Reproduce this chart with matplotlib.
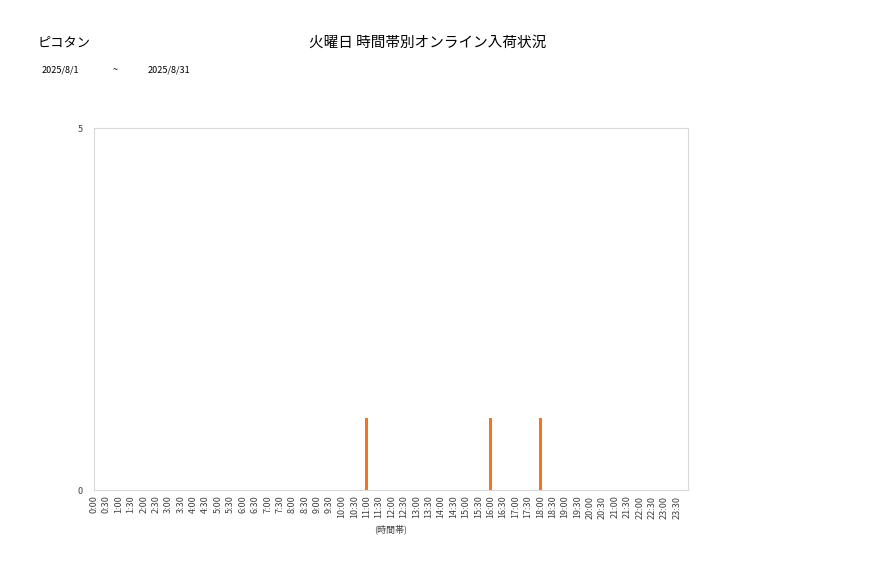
import matplotlib
matplotlib.use("Agg")
import matplotlib.pyplot as plt

plt.rcParams['font.family'] = ['Noto Sans CJK JP', 'DejaVu Sans']

times = [f"{h}:{m:02d}" for h in range(24) for m in (0, 30)]
counts = [0] * 48
active = {"11:00": 1, "16:00": 1, "18:00": 1}
for k, v in active.items():
    counts[times.index(k)] = v

yticks = [0, 5]
title = "火曜日 時間帯別オンライン入荷状況"
shop = "ピコタン"
date_from = "2025/8/1"
date_to = "2025/8/31"
xlabel = "(時間帯)"

W, H = 877, 578
fig = plt.figure(figsize=(W / 100, H / 100), dpi=100)
ax = fig.add_axes([94 / W, (H - 490) / H, (688 - 94) / W, (490 - 128) / H])

x = list(range(len(times)))
ax.bar(x, counts, width=0.25, color='#F7731C', zorder=3)
ax.set_xlim(0.0, 47.9)
ax.set_ylim(0, 5)
ax.set_yticks(yticks)
ax.set_yticklabels([str(v) for v in yticks], fontsize=6.5, color='#404040')
ax.set_xticks(x)
ax.set_xticklabels(times, rotation=90, fontsize=6.5, color='#404040')
ax.tick_params(axis='x', length=0, pad=4)
ax.tick_params(axis='y', length=0, pad=8)
for s in ax.spines.values():
    s.set_color('#d9d9d9')
    s.set_linewidth(0.8)
ax.set_xlabel(xlabel, fontsize=6.5, color='#404040', labelpad=4)

fig.text(428 / W, 1 - 43 / H, title, fontsize=10.5, ha='center', va='center', color='#000000')
fig.text(38 / W, 1 - 43 / H, shop, fontsize=9.5, ha='left', va='center', color='#000000')
fig.text(42 / W, 1 - 70 / H, date_from, fontsize=6.5, ha='left', va='center', color='#000000')
fig.text(115 / W, 1 - 70 / H, "~", fontsize=6.5, ha='center', va='center', color='#000000')
fig.text(148 / W, 1 - 70 / H, date_to, fontsize=6.5, ha='left', va='center', color='#000000')

fig.savefig("out.png", dpi=100)
